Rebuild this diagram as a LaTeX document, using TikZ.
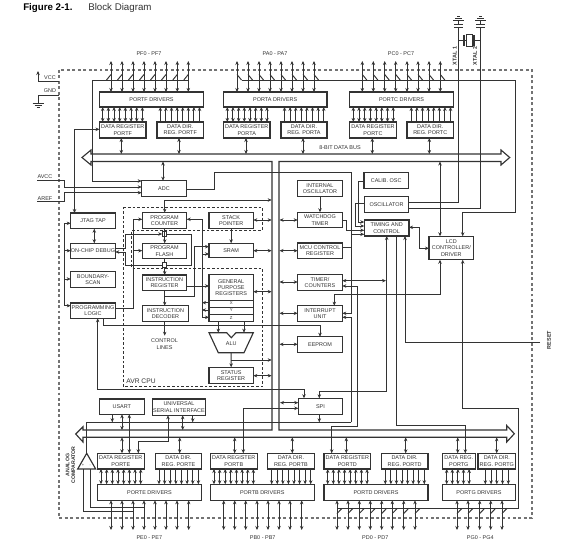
\documentclass[tikz,border=0pt]{standalone}
\usepackage{fontspec}
\setmainfont{Liberation Sans}
\usetikzlibrary{arrows.meta}
\definecolor{ink}{gray}{0.2}
\tikzset{
  wire/.style={draw=ink,line width=0.72pt},
  one/.style={wire,-{Stealth[length=3pt,width=2.6pt]}},
  rev/.style={wire,{Stealth[length=3pt,width=2.6pt]}-},
  two/.style={wire,{Stealth[length=3pt,width=2.6pt]}-{Stealth[length=3pt,width=2.6pt]}},
  bus/.style={draw=ink,line width=0.85pt},
  boxst/.style={draw=ink,line width=0.85pt,fill=white,rectangle,inner sep=0pt,outer sep=0pt,align=center,text=ink,font=\fontsize{4.1}{4.7}\selectfont},
  lab/.style={inner sep=0pt,outer sep=0pt,align=center,text=ink,font=\fontsize{4.1}{4.7}\selectfont},
  frame/.style={draw=black!55,line width=0.95pt,dash pattern=on 2.2pt off 1.9pt},
  cpu/.style={draw=ink,line width=0.6pt,dash pattern=on 2pt off 1.5pt},
}
\newcommand\bx[6]{\node[boxst,minimum width={(#4-(#2))*0.75pt},minimum height={(#5-(#3))*0.75pt}] (#1) at ({(#2+#4)/2},{(#3+#5)/2}) {#6};}
\newcommand\vrow[6]{\foreach \i in {0,...,#4}{\pgfmathsetmacro\xx{#2+#3*\i}\draw[#1] (\xx,0 |- #5.south) -- (\xx,0 |- #6.north);}}
\begin{document}
\begin{tikzpicture}[x=0.75pt,y=-0.75pt]
\useasboundingbox (0,0) rectangle (566,552);
\fill[white] (0,0) rectangle (566,552);
% title
\node[inner sep=0pt,anchor=west,text=black,font=\fontsize{7.3}{8}\selectfont\bfseries] (figno) at (23,8) {Figure 2-1.};
\node[inner sep=0pt,anchor=west,text=ink,font=\fontsize{7.3}{8}\selectfont] (figname) at (88,8) {Block Diagram};
% frame
\draw[frame] (59,70) rectangle (532,518);
% CPU dashed outline
\draw[cpu] (123.3,207.3) -- (262.3,207.3) -- (262.3,230) -- (131.7,230) -- (131.7,268) -- (262.3,268) -- (262.3,386.7) -- (123.3,386.7) -- cycle;
% === top ports
\bx{pfd}{99.5}{92}{203.5}{107}{PORTF DRIVERS}
\bx{pfr}{99.5}{122}{146}{138}{DATA REGISTER\\PORTF}
\bx{pfq}{157}{122}{203.5}{138}{DATA DIR.\\REG. PORTF}
\bx{pad}{223.5}{92}{327}{107}{PORTA DRIVERS}
\bx{par}{223.5}{122}{270}{138}{DATA REGISTER\\PORTA}
\bx{paq}{281}{122}{327}{138}{DATA DIR.\\REG. PORTA}
\bx{pcd}{349.5}{92}{453.5}{107}{PORTC DRIVERS}
\bx{pcr}{349.5}{122}{396.5}{138}{DATA REGISTER\\PORTC}
\bx{pcq}{407}{122}{453.5}{138}{DATA DIR.\\REG. PORTC}
\node[lab] (pflab) at (149,54) {PF0 - PF7};
\node[lab] (palab) at (275,54) {PA0 - PA7};
\node[lab] (pclab) at (401,54) {PC0 - PC7};
\foreach \xx in {111,122,133,144,155,166,177.3,188.3}{\coordinate (pin) at (\xx,61);\draw[two] (pin) -- (pin |- pfd.north);\draw[wire] (\xx-4.5,80) -- (\xx,74.5);}
\foreach \xx in {237,248,259,270,281,292,303,314}{\coordinate (pin) at (\xx,61);\draw[two] (pin) -- (pin |- pad.north);\draw[wire] (\xx,74.5) -- (\xx+4.5,80);}
\foreach \xx in {362.3,373.3,384.7,395.7,407,418,429,440.3}{\coordinate (pin) at (\xx,61);\draw[two] (pin) -- (pin |- pcd.north);\draw[wire] (\xx,74.5) -- (\xx+4.5,80);}
\vrow{two}{102.7}{5.67}{7}{pfd}{pfr}
\vrow{rev}{160.3}{5.6}{7}{pfd}{pfq}
\vrow{two}{227.3}{5.67}{7}{pad}{par}
\vrow{rev}{284.5}{5.6}{7}{pad}{paq}
\vrow{two}{353.3}{5.7}{7}{pcd}{pcr}
\vrow{rev}{411.3}{5.6}{7}{pcd}{pcq}
% === internal bus
\draw[bus] (272,389) -- (272,161.5) -- (91,161.5) -- (91,165) -- (82,157.5) -- (91,150) -- (91,154) -- (501,154) -- (501,150) -- (509.7,157.5) -- (501,165) -- (501,161.5) -- (279,161.5) -- (279,430) -- (506.7,430) -- (506.7,425.5) -- (514.3,433.7) -- (506.7,442) -- (506.7,437.3) -- (83,437.3) -- (83,442) -- (75.7,434) -- (83,426.7) -- (83,430) -- (272,430) -- (272,389);
\node[lab] (buslab) at (340,148) {8-BIT DATA BUS};
\foreach \nd/\xx in {pfr/121.3,pfq/179,par/246,paq/303,pcr/372.3,pcq/429.3}{\draw[two] (\xx,0 |- \nd.south) -- (\xx,154);}
% === left pins
\coordinate (vccp) at (38,71);
\node[lab] (vcc) at (50,78) {VCC};
\draw[rev] (vccp) -- (38,81) -- (59,81);
\node[lab] (gnd) at (50,91) {GND};
\coordinate (gndp) at (38,103);
\draw[wire] (59,95) -- (38,95) -- (gndp);
\draw[wire] (32.5,103) -- (43.5,103) (34.5,105) -- (41.5,105) (36.5,107) -- (39.5,107);
\node[lab] (avcc) at (45,177) {AVCC};
\node[lab] (aref) at (45,199) {AREF};
% === ADC and oscillators
\bx{adc}{141.7}{180.7}{186.3}{196.3}{ADC}
\draw[two] (163,161.5) -- (163,0 |- adc.north);
\draw[one] (37,180) -- (64.3,180) -- (64.3,187) -- (adc.west |- 0,187);
\draw[one] (37,201.7) -- (64.3,201.7) -- (64.3,192.7) -- (adc.west |- 0,192.7);
\draw[one] (188.3,80) -- (92,80) -- (92,181) -- (adc.west |- 0,181);
\bx{cal}{364}{172.7}{408.3}{188.3}{CALIB. OSC}
\bx{osc}{364.5}{196.7}{408.7}{212.7}{OSCILLATOR}
\bx{tim}{364.3}{220}{409}{236}{TIMING AND\\CONTROL}
\bx{lcd}{429}{236.3}{473.7}{259.7}{LCD\\CONTROLLER/\\DRIVER}
\bx{ios}{297.7}{180.7}{342.3}{196.7}{INTERNAL\\OSCILLATOR}
\bx{wdg}{297.7}{212.3}{342.3}{227.7}{WATCHDOG\\TIMER}
\bx{mcu}{297.7}{243}{342.3}{258.7}{MCU CONTROL\\REGISTER}
\bx{tmr}{297.7}{274.3}{342.3}{290.3}{TIMER/\\COUNTERS}
\bx{irq}{297.7}{305.7}{342.3}{321.3}{INTERRUPT\\UNIT}
\bx{eep}{297.7}{336.7}{342.3}{352.3}{EEPROM}
\draw[one] (ios) -- (wdg);
\foreach \nd/\yy in {wdg/220,mcu/250.7,tmr/282,irq/313.3,eep/344.3}{\draw[two] (279.5,\yy) -- (\nd.west |- 0,\yy);}
\draw[one] (cal.west |- 0,181) -- (358.3,181) -- (358.3,222) -- (tim.west |- 0,222);
\draw[one] (osc.west |- 0,203.3) -- (355,203.3) -- (355,226) -- (tim.west |- 0,226);
\draw[one] (wdg.east |- 0,220) -- (346.7,220) -- (346.7,230.3) -- (tim.west |- 0,230.3);
\draw[one] (mcu.east |- 0,247.3) -- (351,247.3) -- (351,234.3) -- (tim.west |- 0,234.3);
\draw[two] (tim.east |- 0,227.3) -- (419.3,227.3) -- (419.3,248.3) -- (lcd.west |- 0,248.3);
% xtal
\draw[wire] (osc.east |- 0,202) -- (458.5,202) -- (458.5,27.5);
\draw[wire] (osc.east |- 0,208) -- (480.5,208) -- (480.5,27.5);
\foreach \xx in {458.5,480.5}{
  \draw[draw=ink,line width=0.9pt] (\xx-4.5,27.5) -- (\xx+4.5,27.5) (\xx-4.5,24.5) -- (\xx+4.5,24.5);
  \draw[wire] (\xx,24.5) -- (\xx,20);
  \draw[wire] (\xx-5.5,20) -- (\xx+5.5,20) (\xx-3.5,18) -- (\xx+3.5,18) (\xx-1.5,16) -- (\xx+1.5,16);
}
\node[draw=ink,line width=0.6pt,fill=white,inner sep=0pt,minimum width=4.5pt,minimum height=9pt] (xtal) at (469,40.5) {};
\draw[wire] (458.5,40.5) -- (xtal.west);
\draw[wire] (xtal.east) -- (480.5,40.5);
\draw[draw=ink,line width=0.8pt] (464,35) -- (464,46) (474,35) -- (474,46);
\node[lab,rotate=90,font=\fontsize{4.1}{4.7}\selectfont\bfseries] (x1) at (454.7,56) {XTAL 1};
\node[lab,rotate=90,font=\fontsize{4.1}{4.7}\selectfont\bfseries] (x2) at (475,56) {XTAL 2};
% LCD wiring
\draw[two] (440,161.5) -- (440,0 |- lcd.north);
\draw[one] (241.5,80) -- (515.5,80) -- (515.5,212.7) -- (462.7,212.7) -- (462.7,0 |- lcd.north);
\draw[two] (440,0 |- lcd.south) -- (440,294.7) -- (334.3,294.7) -- (334.3,0 |- irq.north);
\coordinate (rst) at (540,342.3);
\node[lab,rotate=90,font=\fontsize{4.1}{4.7}\selectfont\bfseries] (reset) at (549,340) {RESET};
\draw[one] (rst) -- (405,342.3) -- (405,0 |- tim.south);
\draw[two] (tmr.east |- 0,280.7) -- (386,280.7);
% === left column
\bx{jtag}{70.7}{213}{115.3}{228.7}{JTAG TAP}
\bx{dbg}{70.7}{243.3}{115.3}{258.7}{ON-CHIP DEBUG}
\bx{bsc}{70.7}{271.7}{115.3}{287.3}{BOUNDARY-\\SCAN}
\bx{prg}{70.7}{303}{115.3}{318.3}{PROGRAMMING\\LOGIC}
\draw[two] (94.3,0 |- jtag.south) -- (94.3,0 |- dbg.north);
\draw[two] (jtag.west |- 0,223.3) -- (64,223.3) -- (64,305.7) -- (prg.west |- 0,305.7);
\draw[one] (64,250.7) -- (dbg.west |- 0,250.7);
\draw[one] (64,279) -- (bsc.west |- 0,279);
\draw[two] (pfr.west |- 0,129.3) -- (74.5,129.3) -- (74.5,0 |- jtag.north);
% === CPU
\bx{pctr}{142.3}{212.7}{186.7}{228.3}{PROGRAM\\COUNTER}
\bx{spt}{209}{212.7}{253.3}{228.3}{STACK\\POINTER}
\bx{flash}{142.3}{243.3}{186.7}{258.7}{PROGRAM\\FLASH}
\bx{sram}{209}{243.3}{253.3}{257.7}{SRAM}
\bx{ireg}{142.3}{275}{186.7}{290.3}{INSTRUCTION\\REGISTER}
\bx{idec}{142.3}{305.7}{188.7}{321.3}{INSTRUCTION\\DECODER}
\bx{gpr}{209}{274.7}{253.3}{321.3}{}
\bx{stat}{209}{367.3}{253.3}{383.3}{STATUS\\REGISTER}
\node[lab] (gprl) at (231.2,287.5) {GENERAL\\PURPOSE\\REGISTERS};
\draw[wire] (209,300) -- (253.3,300) (209,307) -- (253.3,307) (209,314) -- (253.3,314);
\node[lab,font=\fontsize{3.2}{4}\selectfont] (gx) at (231.2,303.5) {X};
\node[lab,font=\fontsize{3.2}{4}\selectfont] (gy) at (231.2,310.5) {Y};
\node[lab,font=\fontsize{3.2}{4}\selectfont] (gz) at (231.2,317.6) {Z};
\node[lab] (alu) at (231.2,343.5) {ALU};
\draw[bus] (209,332.7) -- (226.7,332.7) -- (231.3,337.7) -- (236,332.7) -- (253.3,332.7) -- (244,352.7) -- (218.3,352.7) -- cycle;
\node[lab] (ctl) at (164.5,344) {CONTROL\\LINES};
\node[inner sep=0pt,text=ink,font=\fontsize{5}{6}\selectfont] (avr) at (141,381) {AVR CPU};
\coordinate (ctip) at (164.7,335.7);
\draw[one] (164.7,0 |- idec.south) -- (ctip);
\draw[two] (164.7,0 |- pctr.north) -- (164.7,200) -- (271.7,200);
\draw[two] (spt.east |- 0,220) -- (271.7,220);
\draw[one] (spt) -- (sram);
\draw[two] (sram.east |- 0,250.7) -- (271.7,250.7);
\draw[two] (gpr.east |- 0,291.7) -- (271.7,291.7);
\draw[two] (stat.east |- 0,375.7) -- (271.7,375.7);
\draw[one] (231.2,352.7) -- (stat.north);
\draw[one] (231.2,360) -- (271.7,360);
\draw[one] (218.3,0 |- gpr.south) -- (218.3,332.7);
\draw[one] (244,0 |- gpr.south) -- (244,332.7);
% mux squares and program memory loop
\node[draw=ink,line width=0.6pt,fill=white,inner sep=0pt,minimum size=3.2pt] (m1) at (164.7,234) {};
\node[draw=ink,line width=0.6pt,fill=white,inner sep=0pt,minimum size=3.2pt] (m2) at (164.7,265) {};
\draw[one] (dbg.east |- 0,248.3) -- (125.7,248.3) -- (125.7,234) -- (m1.west);
\draw[wire] (m1.east) -- (191,234) -- (191,265) -- (m2.east);
\draw[one] (m2.west) -- (125.7,265) -- (125.7,252) -- (dbg.east |- 0,252);
\draw[one] (164.7,0 |- pctr.south) -- (164.7,0 |- flash.north);
\draw[wire] (164.7,0 |- flash.south) -- (m2.north);
\draw[one] (m2.south) -- (164.7,0 |- ireg.north);
\draw[one] (prg.east |- 0,308.3) -- (133.3,308.3) -- (133.3,219.3) -- (pctr.west |- 0,219.3);
\draw[one] (133.3,250.7) -- (flash.west |- 0,250.7);
\draw[one] (164.7,0 |- ireg.south) -- (164.7,0 |- idec.north);
\draw[one] (164.7,296.7) -- (194,296.7) -- (194,246.7) -- (sram.west |- 0,246.7);
\draw[one] (ireg.east |- 0,286) -- (gpr.west |- 0,286);
\draw[two] (pctr.east |- 0,219.3) -- (202,219.3) -- (202,317.3) -- (gpr.west |- 0,317.3);
\draw[one] (202,254) -- (sram.west |- 0,254);
\draw[one] (gpr.west |- 0,302.7) -- (202,302.7);
\draw[one] (gpr.west |- 0,310) -- (202,310);
% === ADC out to interrupt, EEPROM, SPI lines
\draw[one] (adc.east |- 0,189) -- (214,189) -- (214,172.7) -- (351,172.7) -- (351,313.3) -- (irq.east |- 0,313.3);
\draw[one] (103.3,0 |- prg.south) -- (103.3,325) -- (320,325) -- (320,0 |- eep.north);
% === bottom
\bx{spi}{298.3}{398.3}{342.7}{414.3}{SPI}
\bx{usart}{99.3}{399}{144.3}{414.3}{USART}
\bx{usi}{152.3}{399}{205.7}{415.3}{UNIVERSAL\\SERIAL INTERFACE}
\bx{per}{97.3}{453.3}{144.3}{469}{DATA REGISTER\\PORTE}
\bx{peq}{155.3}{453.3}{201.7}{469}{DATA DIR.\\REG. PORTE}
\bx{ped}{97.3}{484.3}{201.7}{500.3}{PORTE DRIVERS}
\bx{pbr}{210.3}{453.3}{257.3}{469}{DATA REGISTER\\PORTB}
\bx{pbq}{267.7}{453.3}{314.3}{469}{DATA DIR.\\REG. PORTB}
\bx{pbd}{210.3}{484.3}{314.3}{500.3}{PORTB DRIVERS}
\bx{pdr}{324}{453.3}{370.7}{469}{DATA REGISTER\\PORTD}
\bx{pdq}{381.3}{453.3}{428}{469}{DATA DIR.\\REG. PORTD}
\bx{pdd}{324}{484.3}{428}{500.3}{PORTD DRIVERS}
\bx{pgr}{442.3}{453.3}{475.3}{469}{DATA REG.\\PORTG}
\bx{pgq}{478}{453.3}{515.7}{469}{DATA DIR.\\REG. PORTG}
\bx{pgd}{442.3}{484.3}{515.7}{500.3}{PORTG DRIVERS}
\node[lab] (pelab) at (149.3,537.3) {PE0 - PE7};
\node[lab] (pblab) at (262.7,537.3) {PB0 - PB7};
\node[lab] (pdlab) at (375.3,537.3) {PD0 - PD7};
\node[lab] (pglab) at (480.3,537.3) {PG0 - PG4};
\vrow{two}{101}{5.67}{7}{per}{ped}
\vrow{one}{159}{5.62}{7}{peq}{ped}
\vrow{two}{214}{5.62}{7}{pbr}{pbd}
\vrow{one}{271.7}{5.57}{7}{pbq}{pbd}
\vrow{two}{327.7}{5.62}{7}{pdr}{pdd}
\vrow{one}{385.3}{5.57}{7}{pdq}{pdd}
\vrow{two}{446.7}{5.6}{4}{pgr}{pgd}
\vrow{one}{485.3}{5.75}{4}{pgq}{pgd}
\foreach \xx in {111,122,133,144,155,166,177,188.7}{\coordinate (pin) at (\xx,530);\draw[two] (pin) -- (pin |- ped.south);}
\foreach \xx in {223.7,234.7,245.7,257,268,279,290,301.7}{\coordinate (pin) at (\xx,530);\draw[two] (pin) -- (pin |- pbd.south);}
\foreach \xx in {337,348,359.3,370.3,381.7,392.3,403.7,415}{\coordinate (pin) at (\xx,530);\draw[two] (pin) -- (pin |- pdd.south);\draw[wire] (\xx,513.5) -- (\xx+5,508.3);}
\foreach \xx in {457,468,479.7,490.7,502}{\coordinate (pin) at (\xx,530);\draw[two] (pin) -- (pin |- pgd.south);\draw[wire] (\xx,513.5) -- (\xx+5,508.3);}
% bus taps at bottom
\foreach \nd/\xx in {peq/179.7,pbr/234.7,pbq/292.3,pdr/346.3,pdq/405.7,pgr/457.7,pgq/496.7}{\draw[two] (\xx,437.3) -- (\xx,0 |- \nd.north);}
\draw[two] (122,437.3) -- (122,0 |- per.north);
% SPI
\draw[two] (280,402.7) -- (spi.west |- 0,402.7);
\draw[two] (spi.west |- 0,408.3) -- (243.3,408.3) -- (243.3,0 |- pbr.north);
\draw[two] (97.7,0 |- prg.south) -- (97.7,389.3) -- (304,389.3) -- (304,0 |- spi.north);
\draw[two] (386.7,0 |- tim.south) -- (386.7,391.7) -- (319.3,391.7) -- (319.3,0 |- spi.north);
\draw[one] (319.3,0 |- spi.south) -- (319.3,422.3);
% long return lines
\draw[one] (351,422.3) -- (351,317.3) -- (irq.east |- 0,317.3);
\draw[wire] (351,422.3) -- (86.7,422.3) -- (86.7,453.3);
\draw[two] (tmr.east |- 0,286) -- (357.3,286) -- (357.3,426.7) -- (331.7,426.7) -- (331.7,0 |- pdr.north);
\draw[one] (396,0 |- tim.south) -- (396,425.7) -- (465.3,425.7) -- (465.3,0 |- pgr.north);
\draw[rev] (462.7,0 |- lcd.south) -- (462.7,408.3) -- (518.7,408.3) -- (518.7,508.3) -- (337,508.3);
% USART and USI
\draw[one] (112.3,0 |- usart.south) -- (112.3,422.3);
\draw[two] (122,0 |- usart.south) -- (122,430);
\draw[two] (129.3,0 |- usart.south) -- (129.3,0 |- per.north);
\draw[two] (168,0 |- usi.south) -- (168,441) -- (138.3,441) -- (138.3,0 |- per.north);
\draw[two] (182.7,0 |- usi.south) -- (182.7,430);
\draw[one] (192.7,0 |- usi.south) -- (192.7,422.3);
% analog comparator
\draw[bus] (86.7,453.3) -- (95.7,469) -- (77.7,469) -- cycle;
\node[lab,font=\fontsize{3}{3}\selectfont] (acp) at (83,465.5) {+};
\node[lab,font=\fontsize{3}{3}\selectfont] (acn) at (90.3,465.5) {-};
\draw[wire] (83,469) -- (83,511.7) -- (133,511.7);
\draw[wire] (90.3,469) -- (90.3,507.7) -- (144,507.7);
\node[lab,rotate=90,font=\fontsize{3.9}{4.4}\selectfont\bfseries] (aclab) at (70.5,465) {ANALOG\\COMPARATOR};
\end{tikzpicture}
\end{document}
